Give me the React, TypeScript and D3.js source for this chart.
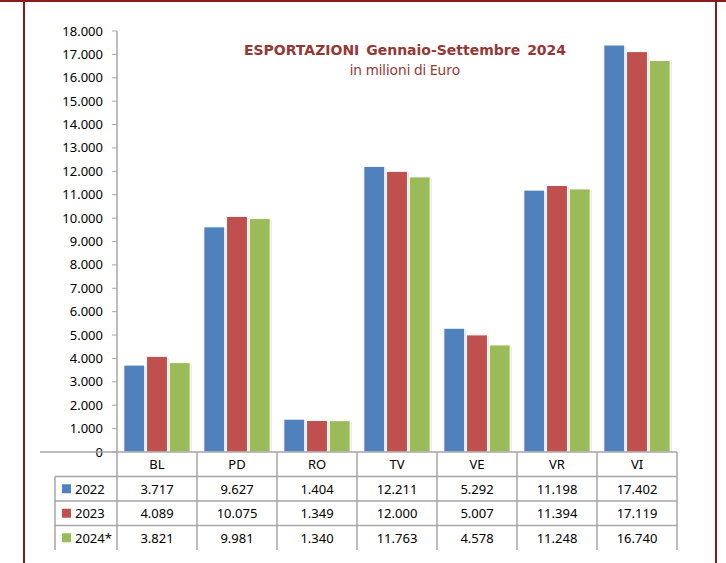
import React from 'react';
import * as d3 from 'd3';

const categories = ['BL', 'PD', 'RO', 'TV', 'VE', 'VR', 'VI'];
const seriesNames = ['2022', '2023', '2024*'];
const values2022 = [3717, 9627, 1404, 12211, 5292, 11198, 17402];
const values2023 = [4089, 10075, 1349, 12000, 5007, 11394, 17119];
const values2024 = [3821, 9981, 1340, 11763, 4578, 11248, 16740];
const seriesColors = ['#4f81bd', '#c0504d', '#9bbb59'];
const yTicks = d3.range(0, 18001, 1000);

const fmt = (v: number) => d3.format(',')(v).replace(/,/g, '.');

const App: React.FC = () => {
  const width = 726;
  const height = 563;
  const plotLeft = 117;
  const plotRight = 677;
  const plotTop = 31;
  const plotBottom = 452;
  const rowH = 24.5;
  const tableLeft = 55;

  const series = [values2022, values2023, values2024];

  const x = d3.scaleBand<string>().domain(categories).range([plotLeft, plotRight]);
  const xInner = d3.scaleBand<string>().domain(seriesNames).range([0, x.bandwidth()]).paddingOuter(0.3).paddingInner(0.08);
  const y = d3.scaleLinear().domain([0, 18000]).range([plotBottom, plotTop]);

  const font = "'Noto Sans', 'DejaVu Sans', sans-serif";

  return (
    <svg width={width} height={height} style={{ position: 'absolute', left: 0, top: 0, background: '#fff' }}>
      {/* outer frame */}
      <line x1={0} x2={width} y1={1} y2={1} stroke="#8b1a1a" strokeWidth={2} />
      <line x1={24} x2={24} y1={0} y2={height} stroke="#8b1a1a" strokeWidth={2} />
      <line x1={716} x2={716} y1={0} y2={height} stroke="#8b1a1a" strokeWidth={2} />

      {/* title */}
      <text x={405} y={55} textAnchor="middle" fontFamily="'DejaVu Sans', sans-serif" fontSize={14} fontWeight="bold" fill="#953735" wordSpacing={2}>
        ESPORTAZIONI Gennaio-Settembre 2024
      </text>
      <text x={405} y={75} textAnchor="middle" fontFamily={font} fontSize={14} fill="#953735">
        in milioni di Euro
      </text>

      {/* bars */}
      {categories.map((c, i) => (
        <g key={c} transform={`translate(${x(c)},0)`}>
          {series.map((vals, s) => {
            const bx = xInner(seriesNames[s])!;
            const bw = xInner.bandwidth();
            const by = y(vals[i]);
            return (
              <g key={s}>
                <rect x={bx + 1.5} y={by + 1.5} width={bw} height={plotBottom - by - 1.5} fill="#d9d9d9" opacity={0.7} />
                <rect x={bx} y={by} width={bw} height={plotBottom - by} fill={seriesColors[s]} stroke="#fff" strokeWidth={1} />
              </g>
            );
          })}
        </g>
      ))}

      {/* y axis */}
      <line x1={plotLeft} x2={plotLeft} y1={plotTop} y2={plotBottom} stroke="#a6a6a6" strokeWidth={1.5} />
      {yTicks.map(t => (
        <g key={t}>
          <line x1={plotLeft - 5} x2={plotLeft} y1={y(t)} y2={y(t)} stroke="#a6a6a6" />
          <text x={103} y={y(t)} dy="0.35em" textAnchor="end" fontFamily={font} fontSize={13} fill="#000">
            {fmt(t)}
          </text>
        </g>
      ))}

      {/* data table */}
      <g stroke="#a6a6a6" strokeWidth={1.5}>
        <line x1={tableLeft - 15} x2={plotRight} y1={plotBottom} y2={plotBottom} />
        <line x1={tableLeft} x2={plotRight} y1={plotBottom + rowH} y2={plotBottom + rowH} />
        <line x1={tableLeft} x2={plotRight} y1={plotBottom + rowH * 2} y2={plotBottom + rowH * 2} />
        <line x1={tableLeft} x2={plotRight} y1={plotBottom + rowH * 3} y2={plotBottom + rowH * 3} />
        <line x1={tableLeft} x2={tableLeft} y1={plotBottom + rowH} y2={plotBottom + rowH * 4} />
        {categories.map(c => (
          <line key={c} x1={x(c)} x2={x(c)} y1={plotBottom} y2={plotBottom + rowH * 4} />
        ))}
        <line x1={plotRight} x2={plotRight} y1={plotBottom} y2={plotBottom + rowH * 4} />
      </g>
      {categories.map(c => (
        <text key={c} x={x(c)! + x.bandwidth() / 2} y={plotBottom + rowH / 2} dy="0.38em" textAnchor="middle" fontFamily={font} fontSize={13} fill="#000">
          {c}
        </text>
      ))}
      {series.map((vals, s) => {
        const cy = plotBottom + rowH * (s + 1.5);
        return (
          <g key={s}>
            <rect x={62} y={cy - 4.5} width={9} height={9} fill={seriesColors[s]} />
            <text x={75} y={cy} dy="0.38em" fontFamily={font} fontSize={13} fill="#000">{seriesNames[s]}</text>
            {vals.map((v, i) => (
              <text key={i} x={x(categories[i])! + x.bandwidth() / 2} y={cy} dy="0.38em" textAnchor="middle" fontFamily={font} fontSize={13} fill="#000">
                {fmt(v)}
              </text>
            ))}
          </g>
        );
      })}
    </svg>
  );
};

export default App;
